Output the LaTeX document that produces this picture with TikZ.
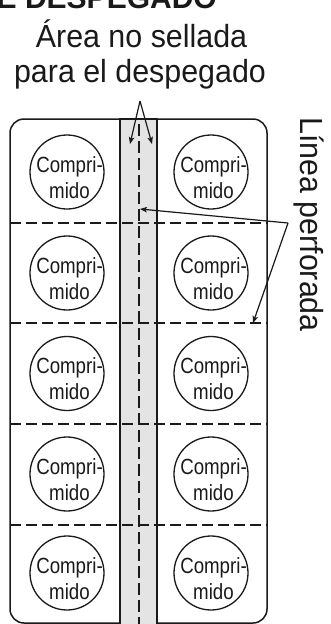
\documentclass[tikz,border=0pt]{standalone}
\usepackage{fontspec}
\setmainfont{Liberation Sans}
\newfontfamily\pillfont[FakeStretch=0.85]{Liberation Sans}
\newfontfamily\lblfont[FakeStretch=0.95]{Liberation Sans}
\usetikzlibrary{arrows.meta}
\definecolor{ink}{HTML}{1A1A1A}
\definecolor{stripgray}{HTML}{E4E4E4}
\tikzset{
  pill/.style={circle, draw=ink, line width=1.3pt, minimum size=74pt, inner sep=0pt},
  pilltext/.style={inner sep=0pt, align=center, text=ink, font=\pillfont\fontsize{22}{26}\selectfont},
  perf/.style={draw=ink, line width=2.5pt, dash pattern=on 11pt off 5pt},
  perfv/.style={draw=ink, line width=2.5pt, dash pattern=on 12pt off 5pt},
  outline/.style={draw=ink, line width=1.5pt},
  lbl/.style={inner sep=0pt, text=ink, font=\lblfont\fontsize{32}{35}\selectfont},
  ptr/.style={draw=ink, line width=1.2pt, -{Stealth[length=7pt,width=5.5pt,inset=1.5pt]}}
}
\begin{document}
\begin{tikzpicture}[x=1pt,y=-1pt]
\useasboundingbox (0,0) rectangle (331,624);
\clip (0,0) rectangle (331,624);
\fill[white] (0,0) rectangle (331,624);
% cut-off title
\node[inner sep=0pt, anchor=base east, text=ink, font=\bfseries\fontsize{30}{34}\selectfont] (title) at (217,8) {DE DESPEGADO};
% labels
\node[lbl, anchor=base] (l1) at (141.5,47) {Área no sellada};
\node[lbl, anchor=base] (l2) at (140,82) {para el despegado};
\node[lbl, rotate=-90, anchor=base west] (l3) at (300,117) {Línea perforada};
% blister
\draw[outline, fill=white, rounded corners=14pt] (10,119) rectangle (267,623);
\fill[stripgray] (120,119) rectangle (157,630);
\draw[outline] (120,630) -- (120,119) -- (157,119) -- (157,630);
% perforations
\foreach \yy in {223,323,424,525} {
  \draw[perf] (10,\yy) -- (267,\yy);
}
\draw[perfv] (139,124) -- (139,630);
% tablets
\foreach \r/\cy in {1/172,2/273,3/373.5,4/474,5/573} {
  \node[pill] (a\r) at (67,\cy) {};
  \node[pilltext] (ta\r) at ([xshift=2.5pt,yshift=-5.5pt]a\r.center) {Compri-\\mido};
  \node[pill] (b\r) at (211,\cy) {};
  \node[pilltext] (tb\r) at ([xshift=2.5pt,yshift=-5.5pt]b\r.center) {Compri-\\mido};
}
% arrows
\coordinate (ap) at (140,101);
\coordinate (t1) at (130,144);
\coordinate (t2) at (152,144);
\draw[ptr] (ap) -- (t1);
\draw[ptr] (ap) -- (t2);
\coordinate (lp) at (288,223);
\coordinate (t3) at (140,209);
\coordinate (t4) at (253,323);
\draw[ptr] (lp) -- (t3);
\draw[ptr] (lp) -- (t4);
\end{tikzpicture}
\end{document}
